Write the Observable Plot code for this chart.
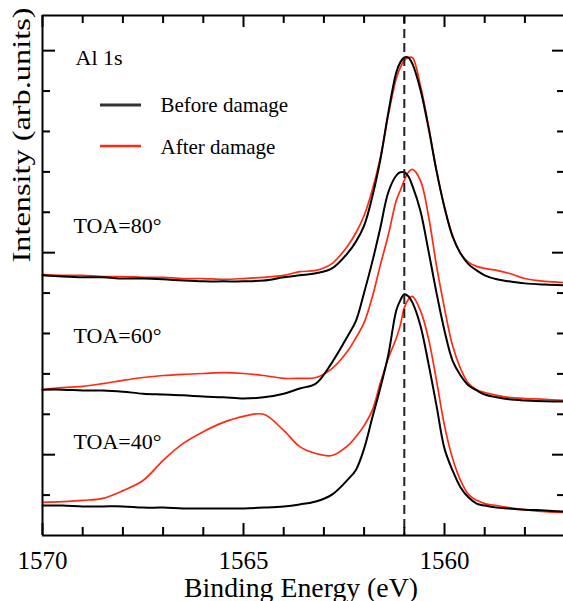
<!DOCTYPE html>
<html><head><meta charset="utf-8">
<script src="https://cdn.jsdelivr.net/npm/d3@7"></script>
<script src="https://cdn.jsdelivr.net/npm/@observablehq/plot@0.6"></script>
<style>body{margin:0;background:#fff;} svg{display:block;}</style>
</head><body><div id="chart"></div>
<script>
// Binding energy grid (eV)
const energy = [1570, 1569.5, 1569, 1568.5, 1568, 1567.5, 1567, 1566.5, 1566, 1565.5, 1565, 1564.5, 1564, 1563.6, 1563.2, 1562.8, 1562.4, 1562.2, 1562.0, 1561.8, 1561.6, 1561.4, 1561.2, 1561.1, 1561.0, 1560.9, 1560.8, 1560.6, 1560.4, 1560.2, 1560.0, 1559.8, 1559.6, 1559.4, 1559.2, 1559.0, 1558.7, 1558.4, 1558.0, 1557.5, 1557.0];

// Intensities (arb. units, offset stacks)
const before80 = [6.44,6.41,6.39,6.39,6.36,6.36,6.34,6.31,6.29,6.29,6.29,6.31,6.39,6.44,6.49,6.61,7.00,7.28,7.67,8.37,9.28,10.45,11.46,11.71,11.83,11.83,11.68,11.04,10.10,9.03,8.12,7.40,6.98,6.71,6.56,6.44,6.34,6.29,6.24,6.21,6.19];
const after80  = [6.46,6.44,6.44,6.41,6.41,6.39,6.39,6.36,6.36,6.34,6.36,6.39,6.44,6.53,6.56,6.73,7.18,7.50,7.92,8.54,9.33,10.40,11.31,11.58,11.76,11.83,11.83,11.14,10.15,9.03,8.12,7.43,6.98,6.76,6.66,6.61,6.56,6.49,6.36,6.29,6.26];
const before60 = [3.61,3.61,3.59,3.59,3.56,3.51,3.49,3.47,3.44,3.42,3.39,3.42,3.51,3.64,3.76,4.28,4.95,5.32,6.01,6.76,7.60,8.49,8.91,8.99,8.99,8.89,8.66,8.04,7.05,6.01,5.07,4.33,3.96,3.71,3.59,3.49,3.42,3.37,3.34,3.32,3.32];
const after60  = [3.61,3.66,3.69,3.76,3.84,3.91,3.96,3.99,4.01,4.03,4.01,3.96,3.89,3.89,3.91,4.13,4.58,4.90,5.27,5.89,6.68,7.43,8.29,8.54,8.79,8.99,9.06,8.79,7.92,6.68,5.62,4.70,4.13,3.76,3.61,3.54,3.47,3.42,3.39,3.37,3.34];
const before40 = [0.74,0.74,0.72,0.72,0.72,0.69,0.69,0.67,0.67,0.67,0.67,0.69,0.72,0.77,0.84,1.01,1.39,1.63,2.15,2.90,3.64,4.46,5.57,5.82,5.97,5.92,5.77,5.20,4.26,3.22,2.15,1.61,1.19,0.94,0.79,0.74,0.69,0.67,0.64,0.62,0.59];
const after40  = [0.82,0.84,0.87,0.92,1.11,1.36,1.86,2.28,2.57,2.80,2.95,3.00,2.60,2.20,2.03,1.98,2.23,2.45,2.72,3.09,3.76,4.38,4.88,5.20,5.64,5.84,5.92,5.57,4.88,3.84,2.72,1.91,1.36,1.01,0.87,0.79,0.74,0.69,0.64,0.59,0.57];

const seriesNames = ["Before damage", "After damage"];
const toaLabels = ["TOA=80°", "TOA=60°", "TOA=40°"];
const xTickLabels = [1570, 1565, 1560];
const xMinorTicks = [1569, 1568, 1567, 1566, 1564, 1563, 1562, 1561, 1559, 1558];
const yMajorTicks = [2, 7, 12];
const yMinorTicks = [1, 3, 4, 5, 6, 8, 9, 10, 11];
const peakEnergy = 1561.0;
const panelTitle = "Al 1s";
const xLabel = "Binding Energy (eV)";
const yLabel = "Intensity (arb.units)";

const xDomain = [1570, 1557.04];
const yDomain = [0, 12.87];

const RED = "#ff2a12", BLACK = "#000";
const series = [
  {toa: 80, kind: "after", values: after80},
  {toa: 60, kind: "after", values: after60},
  {toa: 40, kind: "after", values: after40},
  {toa: 80, kind: "before", values: before80},
  {toa: 60, kind: "before", values: before60},
  {toa: 40, kind: "before", values: before40}
];
const rows = series.flatMap(s => s.values.map((v, i) => ({energy: energy[i], intensity: v, key: s.kind + s.toa, kind: s.kind})));

const W = 521, H = 520; // plot area size
const tk = {stroke: "#000", strokeWidth: 2};
const font = "Liberation Serif";
const toaOffsets = [217, 327, 433];
const txt = {fill: "#000", fontFamily: font};

const chart = Plot.plot({
  width: 563, height: 601,
  marginLeft: 42, marginRight: 0, marginTop: 15, marginBottom: 66,
  x: {domain: xDomain, axis: null},
  y: {domain: yDomain, axis: null},
  style: {fontFamily: font, background: "#fff", color: "#000"},
  marks: [
    Plot.line(rows.filter(d => d.kind === "after"), {x: "energy", y: "intensity", z: "key", stroke: RED, strokeWidth: 1.7, curve: "catmull-rom"}),
    Plot.line(rows.filter(d => d.kind === "before"), {x: "energy", y: "intensity", z: "key", stroke: BLACK, strokeWidth: 2, curve: "catmull-rom"}),
    Plot.ruleX([peakEnergy], {stroke: "#222", strokeWidth: 2, strokeDasharray: "9,5"}),
    // frame (left, top, bottom)
    Plot.ruleX([xDomain[0]], {stroke: "#000", strokeWidth: 2}),
    Plot.ruleY([yDomain[0], yDomain[1]], {stroke: "#000", strokeWidth: 2}),
    // x ticks bottom and top
    Plot.ruleX(xTickLabels, {...tk, insetTop: H - 12}),
    Plot.ruleX(xMinorTicks, {...tk, insetTop: H - 8}),
    Plot.ruleX(xTickLabels, {...tk, insetBottom: H - 12}),
    Plot.ruleX(xMinorTicks, {...tk, insetBottom: H - 8}),
    // y ticks left and right
    Plot.ruleY(yMajorTicks, {...tk, insetRight: W - 13}),
    Plot.ruleY(yMinorTicks, {...tk, insetRight: W - 8}),
    Plot.ruleY(yMajorTicks, {...tk, insetLeft: W - 11}),
    Plot.ruleY(yMinorTicks, {...tk, insetLeft: W - 6}),
    // tick labels
    Plot.text(xTickLabels, {...txt, x: d => d, text: d => String(d), frameAnchor: "bottom", dy: 33, lineAnchor: "bottom", fontSize: 25}),
    // axis labels
    Plot.text([xLabel], {...txt, text: d => d, frameAnchor: "bottom", dx: -2, dy: 61, lineAnchor: "bottom", fontSize: 27}),
    Plot.text([yLabel], {...txt, text: d => d, frameAnchor: "left", rotate: -90, dx: -13, dy: -13, lineAnchor: "bottom", fontSize: 26}),
    // annotations
    Plot.text([panelTitle], {...txt, text: d => d, frameAnchor: "top-left", dx: 33, dy: 49, textAnchor: "start", lineAnchor: "bottom", fontSize: 22}),
    Plot.text([seriesNames[0]], {...txt, text: d => d, frameAnchor: "top-left", dx: 118, dy: 96, textAnchor: "start", lineAnchor: "bottom", fontSize: 21}),
    Plot.text([seriesNames[1]], {...txt, text: d => d, frameAnchor: "top-left", dx: 118, dy: 138, textAnchor: "start", lineAnchor: "bottom", fontSize: 21}),
    ...toaLabels.map((t, i) => Plot.text([t], {...txt, text: d => d, frameAnchor: "top-left", dx: 31, dy: toaOffsets[i], textAnchor: "start", lineAnchor: "bottom", fontSize: 22}))
  ]
});

document.getElementById("chart").appendChild(chart);

const svg = d3.select(chart);
svg.attr("font-family", font).style("font-family", font);
svg.selectAll("g[aria-label='text']").attr("font-family", font).style("font-family", font);
svg.selectAll("text").attr("font-family", font).style("font-family", font);

// stretch axis titles to their measured length
svg.selectAll("text").each(function() {
  const t = this.textContent;
  if (t === yLabel) { this.setAttribute("textLength", 255); this.setAttribute("lengthAdjust", "spacingAndGlyphs"); }
  if (t === xLabel) { this.setAttribute("textLength", 234); this.setAttribute("lengthAdjust", "spacingAndGlyphs"); }
});

// legend swatches
svg.append("line").attr("x1", 100).attr("x2", 141).attr("y1", 105).attr("y2", 105).attr("stroke", "#333").attr("stroke-width", 3);
svg.append("line").attr("x1", 100).attr("x2", 141).attr("y1", 146).attr("y2", 146).attr("stroke", RED).attr("stroke-width", 2.5);
</script>
</body></html>
